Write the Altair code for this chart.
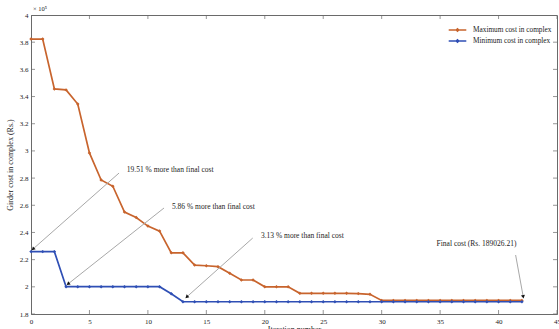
import altair as alt
import pandas as pd

# Girder cost per iteration, in units of 10^5 Rs.
iterations = list(range(43))
max_cost = [3.823, 3.823, 3.456, 3.449, 3.345, 2.985, 2.786, 2.740, 2.550, 2.510,
            2.447, 2.410, 2.250, 2.250, 2.160, 2.155, 2.148, 2.100, 2.050, 2.050,
            2.000, 2.000, 2.000, 1.952, 1.952, 1.952, 1.952, 1.952, 1.950, 1.945,
            1.900, 1.900, 1.900, 1.900, 1.900, 1.900, 1.900, 1.900, 1.900, 1.900,
            1.900, 1.900, 1.900]
min_cost = [2.2590, 2.2590, 2.2590, 2.0010, 2.0010, 2.0010, 2.0010, 2.0010, 2.0010, 2.0010,
            2.0010, 2.0010, 1.9494, 1.8902621, 1.8902621, 1.8902621, 1.8902621, 1.8902621,
            1.8902621, 1.8902621, 1.8902621, 1.8902621, 1.8902621, 1.8902621, 1.8902621,
            1.8902621, 1.8902621, 1.8902621, 1.8902621, 1.8902621, 1.8902621, 1.8902621,
            1.8902621, 1.8902621, 1.8902621, 1.8902621, 1.8902621, 1.8902621, 1.8902621,
            1.8902621, 1.8902621, 1.8902621, 1.8902621]
series_names = ["Maximum cost in complex", "Minimum cost in complex"]
series_colors = ["#c8642d", "#2f4fb5"]

x_ticks = [0, 5, 10, 15, 20, 25, 30, 35, 40, 45]
y_ticks = [1.8, 2.0, 2.2, 2.4, 2.6, 2.8, 3.0, 3.2, 3.4, 3.6, 3.8, 4.0]

# Callouts: label text, label anchor, pointer start and pointer tip (data units)
note_text = ["19.51 % more than final cost", "5.86 % more than final cost",
             "3.13 % more than final cost", "Final cost (Rs. 189026.21)"]
note_x = [8.2, 12.06, 19.67, 34.7]
note_y = [2.86, 2.587, 2.374, 2.315]
ptr_x0 = [7.53, 11.38, 18.97, 41.46]
ptr_y0 = [2.837, 2.580, 2.359, 2.234]
ptr_x1 = [0.17, 3.17, 13.32, 42.11]
ptr_y1 = [2.278, 2.021, 1.925, 1.927]
head_angle = [228, 232, 228, 170]

W, H = 526, 299
SERIF = "Liberation Serif"
FRAME = "#6a6a6a"

df = pd.DataFrame({
    "iteration": iterations * 2,
    "cost": max_cost + min_cost,
    "series": [series_names[0]] * len(iterations) + [series_names[1]] * len(iterations),
})
notes = pd.DataFrame({"text": note_text, "tx": note_x, "ty": note_y,
                      "x0": ptr_x0, "y0": ptr_y0, "x1": ptr_x1, "y1": ptr_y1,
                      "ang": head_angle})

xscale = alt.Scale(domain=[0, 45], nice=False, zero=False)
yscale = alt.Scale(domain=[1.8, 4.0], nice=False, zero=False)

x_axis = alt.Axis(values=x_ticks, title="Iteration number", titlePadding=1)
y_axis = alt.Axis(values=y_ticks, format="~g", title="Girder cost in complex (Rs.)",
                  titlePadding=5)

legend = alt.Legend(
    title=None, orient="none", legendX=420, legendY=8.5, padding=0, rowPadding=0,
    symbolType="M-1.6,0L1.6,0M-0.25,0L0,-0.25L0.25,0L0,0.25Z",
    symbolSize=121, symbolStrokeWidth=1.3, labelFont=SERIF, labelFontSize=7.3,
    labelColor="#222", labelOffset=9, labelLimit=200,
)

lines = alt.Chart(df).mark_line(
    strokeWidth=1.7,
    point=alt.OverlayMarkDef(filled=True, size=12, shape="diamond"),
).encode(
    x=alt.X("iteration:Q", scale=xscale, axis=x_axis),
    y=alt.Y("cost:Q", scale=yscale, axis=y_axis),
    color=alt.Color("series:N", scale=alt.Scale(domain=series_names, range=series_colors),
                    legend=legend),
)

# Inward tick marks on all four sides of the box
xt = pd.DataFrame({"v": x_ticks})
yt = pd.DataFrame({"v": y_ticks})
tick_bottom = alt.Chart(xt).mark_tick(orient="vertical", size=8, thickness=1, color=FRAME, clip=True).encode(
    x=alt.X("v:Q", scale=xscale, axis=x_axis), y=alt.value(H))
tick_top = alt.Chart(xt).mark_tick(orient="vertical", size=8, thickness=1, color=FRAME, clip=True).encode(
    x=alt.X("v:Q", scale=xscale, axis=x_axis), y=alt.value(0))
tick_left = alt.Chart(yt).mark_tick(orient="horizontal", size=8, thickness=1, color=FRAME, clip=True).encode(
    y=alt.Y("v:Q", scale=yscale, axis=y_axis), x=alt.value(0))
tick_right = alt.Chart(yt).mark_tick(orient="horizontal", size=8, thickness=1, color=FRAME, clip=True).encode(
    y=alt.Y("v:Q", scale=yscale, axis=y_axis), x=alt.value(W))

pointers = alt.Chart(notes).mark_rule(color="#a8a8a8", strokeWidth=1).encode(
    x=alt.X("x0:Q", scale=xscale, axis=x_axis), y=alt.Y("y0:Q", scale=yscale, axis=y_axis),
    x2="x1:Q", y2="y1:Q")
heads = alt.Chart(notes).mark_point(shape="triangle-up", filled=True, color="#111",
                                    size=16, opacity=1).encode(
    x=alt.X("x1:Q", scale=xscale, axis=x_axis), y=alt.Y("y1:Q", scale=yscale, axis=y_axis),
    angle=alt.Angle("ang:Q", scale=None))
labels = alt.Chart(notes).mark_text(align="left", baseline="middle", font=SERIF,
                                    fontSize=7.5, color="#222").encode(
    x=alt.X("tx:Q", scale=xscale, axis=x_axis), y=alt.Y("ty:Q", scale=yscale, axis=y_axis),
    text="text:N")

multiplier = alt.Chart(pd.DataFrame({"t": ["× 10⁵"]})).mark_text(
    align="left", baseline="middle", font=SERIF, fontSize=6.5, color="#222").encode(
    x=alt.value(2), y=alt.value(-6), text="t:N")

chart = alt.layer(
    lines, pointers, heads, labels,
    tick_bottom, tick_top, tick_left, tick_right, multiplier,
).properties(
    width=W, height=H,
    background="white",
    autosize=alt.AutoSizeParams(type="none"),
    padding={"left": 31, "top": 15, "right": 2, "bottom": 15},
).configure_view(
    stroke=FRAME, strokeWidth=1
).configure_axis(
    tickSize=0, grid=False, labelOverlap=False, labelBound=False, labelFlush=False,
    labelFont=SERIF, labelFontSize=7, labelPadding=3, labelColor="#222",
    domainColor=FRAME, titleFont=SERIF, titleFontSize=8, titleFontWeight="normal",
    titleColor="#222",
)

chart.save("out.html", embed_options={"renderer": "svg", "actions": False})
